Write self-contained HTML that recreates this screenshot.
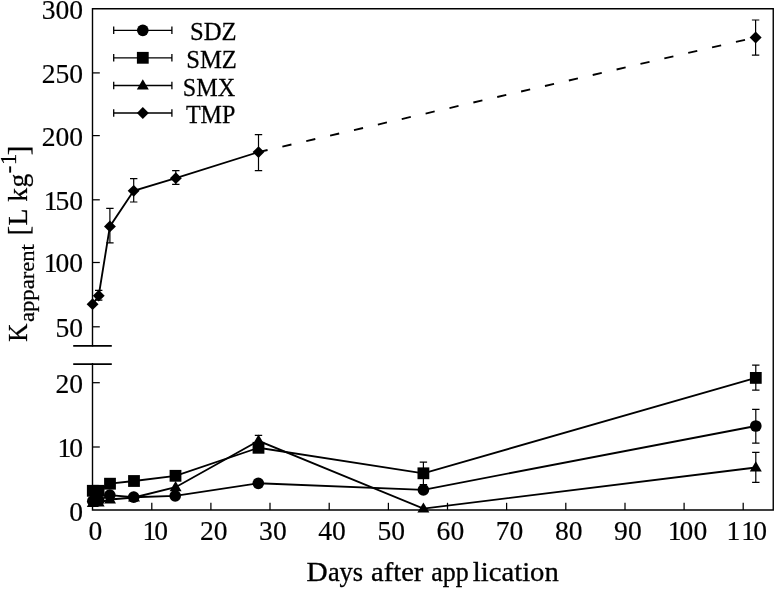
<!DOCTYPE html>
<html lang="en"><head><meta charset="utf-8"><title>K apparent vs days after application</title>
<style>html,body{margin:0;padding:0;background:#fff;}svg{display:block;}text{font-family:"Liberation Serif","Times New Roman",serif;fill:#000;}</style></head><body>
<svg width="774" height="589" viewBox="0 0 774 589">
<rect width="774" height="589" fill="#fff"/>
<g stroke="#000" stroke-width="1.4" fill="none" stroke-linecap="square">
<path d="M92.5 345.8V8.7H773.25V510.05H92.5V363.8"/>
</g>
<g stroke="#000" stroke-width="1.75"><line x1="73.2" y1="345.85" x2="111.8" y2="345.85"/><line x1="73.2" y1="364.0" x2="111.8" y2="364.0"/></g>
<g stroke="#000" stroke-width="1.25">
<line x1="92.5" y1="72.9" x2="99.8" y2="72.9"/>
<line x1="92.5" y1="135.6" x2="99.8" y2="135.6"/>
<line x1="92.5" y1="199.8" x2="99.8" y2="199.8"/>
<line x1="92.5" y1="262.5" x2="99.8" y2="262.5"/>
<line x1="92.5" y1="326.8" x2="99.8" y2="326.8"/>
<line x1="92.5" y1="382.7" x2="99.8" y2="382.7"/>
<line x1="92.5" y1="447.0" x2="99.8" y2="447.0"/>
<line x1="151.8" y1="510.05" x2="151.8" y2="502.8"/>
<line x1="210.9" y1="510.05" x2="210.9" y2="502.8"/>
<line x1="270.0" y1="510.05" x2="270.0" y2="502.8"/>
<line x1="329.2" y1="510.05" x2="329.2" y2="502.8"/>
<line x1="388.4" y1="510.05" x2="388.4" y2="502.8"/>
<line x1="447.5" y1="510.05" x2="447.5" y2="502.8"/>
<line x1="506.6" y1="510.05" x2="506.6" y2="502.8"/>
<line x1="565.8" y1="510.05" x2="565.8" y2="502.8"/>
<line x1="625.0" y1="510.05" x2="625.0" y2="502.8"/>
<line x1="684.1" y1="510.05" x2="684.1" y2="502.8"/>
<line x1="743.2" y1="510.05" x2="743.2" y2="502.8"/>
</g>
<g font-size="27.2" text-anchor="end" stroke="#000" stroke-width="0.18">
<text transform="translate(83.1 19.2) scale(1.015 1)">300</text>
<text transform="translate(83.1 82.8) scale(1.015 1)">250</text>
<text transform="translate(83.1 145.5) scale(1.015 1)">200</text>
<text transform="translate(83.1 209.7) scale(1.015 1)">1<tspan dx="-2">50</tspan></text>
<text transform="translate(83.1 272.4) scale(1.015 1)">1<tspan dx="-2">00</tspan></text>
<text transform="translate(83.1 336.7) scale(1.015 1)">50</text>
<text transform="translate(83.1 392.6) scale(1.015 1)">20</text>
<text transform="translate(83.1 456.9) scale(1.015 1)">1<tspan dx="-2">0</tspan></text>
<text transform="translate(83.1 520.8) scale(1.015 1)">0</text>
</g>
<g font-size="27.2" text-anchor="middle" stroke="#000" stroke-width="0.18">
<text transform="translate(95.5 540.3) scale(1.015 1)">0</text>
<text transform="translate(155.2 540.3) scale(1.015 1)">1<tspan dx="-2">0</tspan></text>
<text transform="translate(213.8 540.3) scale(1.015 1)">20</text>
<text transform="translate(272.9 540.3) scale(1.015 1)">30</text>
<text transform="translate(332.1 540.3) scale(1.015 1)">40</text>
<text transform="translate(391.2 540.3) scale(1.015 1)">50</text>
<text transform="translate(450.4 540.3) scale(1.015 1)">60</text>
<text transform="translate(509.5 540.3) scale(1.015 1)">70</text>
<text transform="translate(568.7 540.3) scale(1.015 1)">80</text>
<text transform="translate(627.9 540.3) scale(1.015 1)">90</text>
<text transform="translate(687.5 540.3) scale(1.015 1)">1<tspan dx="-2">00</tspan></text>
<text transform="translate(746.8 540.3) scale(1.015 1)">1<tspan dx="1">1</tspan><tspan dx="-1.7">0</tspan></text>
</g>
<text y="581.2" font-size="26.5" stroke="#000" stroke-width="0.3"><tspan x="306.4" textLength="21.2" lengthAdjust="spacingAndGlyphs">D</tspan><tspan x="327.9" textLength="35.2" lengthAdjust="spacingAndGlyphs">ays</tspan> <tspan x="371" textLength="52.4" lengthAdjust="spacingAndGlyphs">after</tspan> <tspan x="431.2" textLength="37.4" lengthAdjust="spacingAndGlyphs">app</tspan><tspan x="472.8" textLength="86" lengthAdjust="spacingAndGlyphs">lication</tspan></text>
<text transform="translate(27.4 341.5) rotate(-90)" font-size="27.6" stroke="#000" stroke-width="0.25"><tspan x="-0.3" y="0" font-size="27.8" textLength="18.2" lengthAdjust="spacingAndGlyphs">K</tspan><tspan x="19.5" y="6.2" font-size="21.2" textLength="77.9" lengthAdjust="spacingAndGlyphs">apparent</tspan> <tspan x="106.0" y="0.9" font-size="28.8">[</tspan><tspan x="116.0" y="0">L</tspan> <tspan x="139.8" y="0">k</tspan><tspan x="154.0" y="0">g</tspan><tspan x="168.3" y="-11.8" font-size="22.6">-</tspan><tspan x="176.4" y="-11.1" font-size="22.6">1</tspan><tspan x="186.2" y="0.9" font-size="28.8">]</tspan></text>
<g stroke="#000" stroke-width="1.3" fill="none">
<path d="M113.7 30.3H171.9M113.7 26.5V34.1M171.9 26.5V34.1"/>
<path d="M113.7 57.8H171.9M113.7 54.0V61.599999999999994M171.9 54.0V61.599999999999994"/>
<path d="M113.7 85.5H171.9M113.7 81.7V89.3M171.9 81.7V89.3"/>
<path d="M113.7 113.0H171.9M113.7 109.2V116.8M171.9 109.2V116.8"/>
</g>
<g fill="#000">
<circle cx="142.8" cy="30.3" r="5.85"/>
<rect x="136.9" y="51.9" width="11.8" height="11.8"/>
<path d="M142.8 79.3L148.8 89.5H136.8Z"/>
<path d="M142.8 107.0L148.8 113.0L142.8 119.0L136.9 113.0Z"/>
</g>
<g font-size="25.8" stroke="#000" stroke-width="0.25">
<text transform="translate(190.0 39.7) scale(0.9563 1)">SDZ</text>
<text transform="translate(186.2 67.8) scale(0.9563 1)">SMZ</text>
<text transform="translate(182.8 95.5) scale(0.9367 1)">SMX</text>
<text transform="translate(185.9 123.0) scale(0.9330 1)">TMP</text>
</g>
<path stroke="#000" stroke-width="1.2" fill="none" d="M755.8 409.3V443.1M752.1 409.3H759.5M752.1 443.1H759.5"/>
<polyline fill="none" stroke="#000" stroke-width="1.85"  points="92.8,501.2 98.6,500.5 109.8,495.2 133.7,497.2 175.2,495.8 258.3,483.3 423.4,489.8 755.8,426.0"/>
<g fill="#000"><circle cx="92.8" cy="501.2" r="5.85"/><circle cx="98.6" cy="500.5" r="5.85"/><circle cx="109.8" cy="495.2" r="5.85"/><circle cx="133.7" cy="497.2" r="5.85"/><circle cx="175.2" cy="495.8" r="5.85"/><circle cx="258.3" cy="483.3" r="5.85"/><circle cx="423.4" cy="489.8" r="5.85"/><circle cx="755.8" cy="426.0" r="5.85"/></g>
<path stroke="#000" stroke-width="1.2" fill="none" d="M423.4 462.1V484.7M419.7 462.1H427.1M419.7 484.7H427.1M755.8 365.2V390.2M752.1 365.2H759.5M752.1 390.2H759.5"/>
<polyline fill="none" stroke="#000" stroke-width="1.85"  points="92.8,490.8 98.6,490.8 110.0,483.7 134.0,481.0 175.5,475.8 258.5,447.8 423.4,473.3 755.8,377.9"/>
<g fill="#000"><rect x="86.9" y="484.9" width="11.8" height="11.8"/><rect x="92.7" y="484.9" width="11.8" height="11.8"/><rect x="104.1" y="477.8" width="11.8" height="11.8"/><rect x="128.1" y="475.1" width="11.8" height="11.8"/><rect x="169.6" y="469.9" width="11.8" height="11.8"/><rect x="252.6" y="441.9" width="11.8" height="11.8"/><rect x="417.5" y="467.4" width="11.8" height="11.8"/><rect x="749.9" y="372.0" width="11.8" height="11.8"/></g>
<path stroke="#000" stroke-width="1.2" fill="none" d="M258.5 435.4V446.0M254.8 435.4H262.2M254.8 446.0H262.2M755.8 452.3V482.3M752.1 452.3H759.5M752.1 482.3H759.5"/>
<polyline fill="none" stroke="#000" stroke-width="1.85"  points="92.8,503.0 98.6,502.5 110.0,499.5 134.0,497.5 175.6,487.2 258.5,440.8 423.4,508.6 755.8,467.5"/>
<g fill="#000"><path d="M92.8 496.8L98.8 507.0H86.8Z"/><path d="M98.6 496.3L104.6 506.5H92.6Z"/><path d="M110.0 493.3L116.0 503.5H104.0Z"/><path d="M134.0 491.3L140.0 501.5H128.0Z"/><path d="M175.6 481.0L181.6 491.2H169.6Z"/><path d="M258.5 434.6L264.5 444.8H252.5Z"/><path d="M423.4 502.4L429.4 512.6H417.4Z"/><path d="M755.8 461.3L761.8 471.5H749.8Z"/></g>
<path stroke="#000" stroke-width="1.2" fill="none" d="M98.7 290.3V300.2M95.0 290.3H102.4M95.0 300.2H102.4M109.9 208.4V242.8M106.2 208.4H113.6M106.2 242.8H113.6M133.7 178.7V202.0M130.0 178.7H137.4M130.0 202.0H137.4M175.8 170.7V184.3M172.1 170.7H179.5M172.1 184.3H179.5M258.5 134.6V170.6M254.8 134.6H262.2M254.8 170.6H262.2M755.6 20.0V55.2M751.9 20.0H759.3M751.9 55.2H759.3"/>
<polyline fill="none" stroke="#000" stroke-width="1.85"  points="92.6,304.2 98.7,295.7 109.9,226.4 133.7,190.8 175.8,178.2 258.5,152.1"/>
<polyline fill="none" stroke="#000" stroke-width="1.85" stroke-dasharray="9.3 15.2" points="258.5,152.1 755.6,37.4"/>
<g fill="#000"><path d="M92.6 298.2L98.5 304.2L92.6 310.1L86.6 304.2Z"/><path d="M98.7 289.8L104.7 295.7L98.7 301.6L92.8 295.7Z"/><path d="M109.9 220.5L115.9 226.4L109.9 232.3L104.0 226.4Z"/><path d="M133.7 184.9L139.6 190.8L133.7 196.8L127.7 190.8Z"/><path d="M175.8 172.2L181.8 178.2L175.8 184.1L169.9 178.2Z"/><path d="M258.5 146.2L264.4 152.1L258.5 158.0L252.6 152.1Z"/><path d="M755.6 31.4L761.6 37.4L755.6 43.4L749.6 37.4Z"/></g>
</svg></body></html>
